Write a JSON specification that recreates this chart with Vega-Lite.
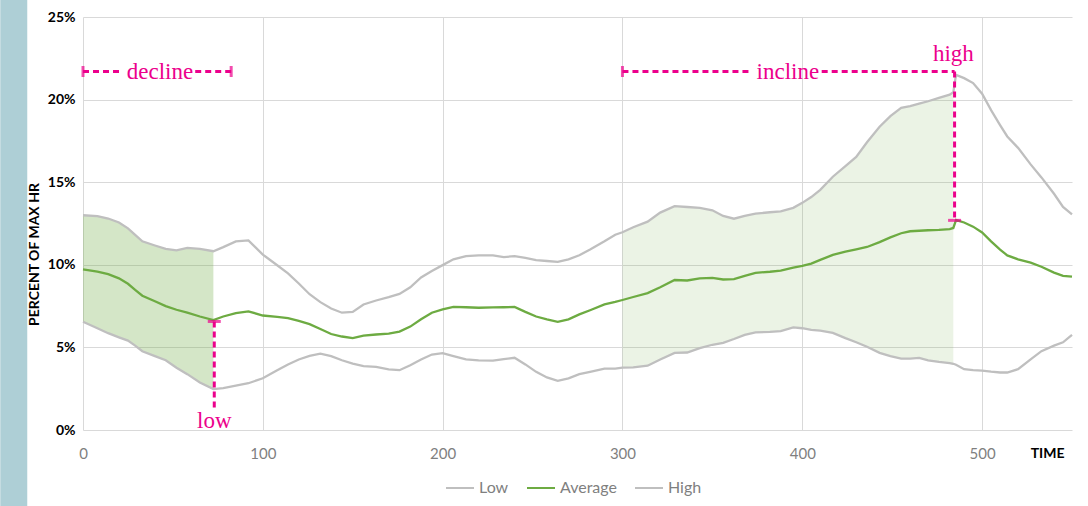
{
  "$schema": "https://vega.github.io/schema/vega-lite/v6.json",
  "width": 989,
  "height": 413,
  "autosize": {"type": "none"},
  "padding": {"left": 83, "top": 17, "right": 16, "bottom": 76},
  "background": "white",
  "config": {
    "view": {"stroke": null},
    "font": "Lato",
    "axis": {"gridColor": "#D9D9D9", "gridWidth": 1, "domain": false, "ticks": false, "tickSize": 0, "labelFlush": false, "labelFont": "Lato", "titleFont": "Lato"},
    "legend": {"labelFont": "Lato"}
  },
  "datasets": {
    "hr": [
      {"t": 0, "High": 13.0, "Average": 9.73, "Low": 6.55},
      {"t": 8, "High": 12.95, "Average": 9.58, "Low": 6.16},
      {"t": 14, "High": 12.8, "Average": 9.43, "Low": 5.86},
      {"t": 20, "High": 12.56, "Average": 9.18, "Low": 5.61},
      {"t": 25, "High": 12.21, "Average": 8.85, "Low": 5.41},
      {"t": 29, "High": 11.81, "Average": 8.48, "Low": 5.11},
      {"t": 33, "High": 11.42, "Average": 8.13, "Low": 4.77},
      {"t": 40, "High": 11.17, "Average": 7.79, "Low": 4.47},
      {"t": 46, "High": 10.97, "Average": 7.5, "Low": 4.22},
      {"t": 52, "High": 10.87, "Average": 7.28, "Low": 3.77},
      {"t": 58, "High": 11.02, "Average": 7.1, "Low": 3.38},
      {"t": 65, "High": 10.97, "Average": 6.87, "Low": 2.88},
      {"t": 72.5, "High": 10.82, "Average": 6.65, "Low": 2.48},
      {"t": 78, "High": 11.07, "Average": 6.87, "Low": 2.54},
      {"t": 85, "High": 11.42, "Average": 7.08, "Low": 2.68},
      {"t": 92, "High": 11.48, "Average": 7.18, "Low": 2.83},
      {"t": 100, "High": 10.62, "Average": 6.93, "Low": 3.13},
      {"t": 108, "High": 9.97, "Average": 6.85, "Low": 3.62},
      {"t": 114, "High": 9.48, "Average": 6.77, "Low": 3.97},
      {"t": 120, "High": 8.87, "Average": 6.6, "Low": 4.27},
      {"t": 126, "High": 8.22, "Average": 6.41, "Low": 4.49},
      {"t": 132, "High": 7.74, "Average": 6.11, "Low": 4.62},
      {"t": 138, "High": 7.35, "Average": 5.81, "Low": 4.47},
      {"t": 144, "High": 7.1, "Average": 5.66, "Low": 4.22},
      {"t": 150, "High": 7.15, "Average": 5.56, "Low": 4.02},
      {"t": 156, "High": 7.6, "Average": 5.71, "Low": 3.87},
      {"t": 163, "High": 7.84, "Average": 5.78, "Low": 3.82},
      {"t": 170, "High": 8.04, "Average": 5.84, "Low": 3.67},
      {"t": 176, "High": 8.24, "Average": 5.96, "Low": 3.62},
      {"t": 182, "High": 8.64, "Average": 6.26, "Low": 3.92},
      {"t": 188, "High": 9.23, "Average": 6.7, "Low": 4.27},
      {"t": 194, "High": 9.63, "Average": 7.1, "Low": 4.57},
      {"t": 200, "High": 9.98, "Average": 7.3, "Low": 4.65},
      {"t": 206, "High": 10.33, "Average": 7.45, "Low": 4.47},
      {"t": 213, "High": 10.52, "Average": 7.43, "Low": 4.27},
      {"t": 220, "High": 10.57, "Average": 7.4, "Low": 4.22},
      {"t": 228, "High": 10.57, "Average": 7.42, "Low": 4.2},
      {"t": 234, "High": 10.47, "Average": 7.43, "Low": 4.29},
      {"t": 240, "High": 10.52, "Average": 7.45, "Low": 4.37},
      {"t": 246, "High": 10.42, "Average": 7.15, "Low": 3.97},
      {"t": 252, "High": 10.28, "Average": 6.87, "Low": 3.52},
      {"t": 258, "High": 10.23, "Average": 6.7, "Low": 3.18},
      {"t": 264, "High": 10.18, "Average": 6.55, "Low": 2.98},
      {"t": 270, "High": 10.33, "Average": 6.7, "Low": 3.13},
      {"t": 276, "High": 10.58, "Average": 7.0, "Low": 3.38},
      {"t": 282, "High": 10.92, "Average": 7.25, "Low": 3.52},
      {"t": 290, "High": 11.42, "Average": 7.6, "Low": 3.72},
      {"t": 296, "High": 11.82, "Average": 7.75, "Low": 3.72},
      {"t": 300, "High": 11.97, "Average": 7.87, "Low": 3.77},
      {"t": 306, "High": 12.27, "Average": 8.05, "Low": 3.79},
      {"t": 314, "High": 12.61, "Average": 8.29, "Low": 3.89},
      {"t": 321, "High": 13.16, "Average": 8.64, "Low": 4.27},
      {"t": 329, "High": 13.55, "Average": 9.08, "Low": 4.67},
      {"t": 336, "High": 13.5, "Average": 9.05, "Low": 4.69},
      {"t": 343, "High": 13.45, "Average": 9.18, "Low": 4.96},
      {"t": 350, "High": 13.3, "Average": 9.21, "Low": 5.16},
      {"t": 356, "High": 12.96, "Average": 9.11, "Low": 5.28},
      {"t": 362, "High": 12.79, "Average": 9.13, "Low": 5.51},
      {"t": 368, "High": 12.96, "Average": 9.33, "Low": 5.76},
      {"t": 374, "High": 13.1, "Average": 9.51, "Low": 5.91},
      {"t": 382, "High": 13.18, "Average": 9.58, "Low": 5.94},
      {"t": 388, "High": 13.23, "Average": 9.65, "Low": 5.99},
      {"t": 395, "High": 13.45, "Average": 9.83, "Low": 6.21},
      {"t": 400, "High": 13.75, "Average": 9.93, "Low": 6.16},
      {"t": 405, "High": 14.1, "Average": 10.07, "Low": 6.06},
      {"t": 410, "High": 14.54, "Average": 10.3, "Low": 6.01},
      {"t": 417, "High": 15.33, "Average": 10.6, "Low": 5.88},
      {"t": 424, "High": 15.98, "Average": 10.8, "Low": 5.56},
      {"t": 430, "High": 16.53, "Average": 10.94, "Low": 5.31},
      {"t": 436, "High": 17.42, "Average": 11.08, "Low": 5.04},
      {"t": 443, "High": 18.36, "Average": 11.37, "Low": 4.67},
      {"t": 449, "High": 19.0, "Average": 11.66, "Low": 4.47},
      {"t": 455, "High": 19.5, "Average": 11.91, "Low": 4.32},
      {"t": 460, "High": 19.6, "Average": 12.03, "Low": 4.32},
      {"t": 465, "High": 19.75, "Average": 12.06, "Low": 4.37},
      {"t": 470, "High": 19.9, "Average": 12.09, "Low": 4.22},
      {"t": 476, "High": 20.1, "Average": 12.11, "Low": 4.12},
      {"t": 482, "High": 20.3, "Average": 12.16, "Low": 4.05},
      {"t": 484, "High": 20.45, "Average": 12.23, "Low": 4.01},
      {"t": 485.5, "High": 21.5, "Average": 12.71, "Low": 3.95},
      {"t": 490, "High": 21.3, "Average": 12.56, "Low": 3.68},
      {"t": 495, "High": 21.0, "Average": 12.31, "Low": 3.63},
      {"t": 500, "High": 20.36, "Average": 11.96, "Low": 3.6},
      {"t": 505, "High": 19.36, "Average": 11.42, "Low": 3.53},
      {"t": 510, "High": 18.46, "Average": 10.92, "Low": 3.48},
      {"t": 514, "High": 17.77, "Average": 10.57, "Low": 3.48},
      {"t": 520, "High": 17.08, "Average": 10.33, "Low": 3.68},
      {"t": 527, "High": 16.08, "Average": 10.13, "Low": 4.28},
      {"t": 533, "High": 15.29, "Average": 9.88, "Low": 4.77},
      {"t": 540, "High": 14.3, "Average": 9.53, "Low": 5.11},
      {"t": 545, "High": 13.5, "Average": 9.33, "Low": 5.31},
      {"t": 550, "High": 13.05, "Average": 9.28, "Low": 5.76}
    ],
    "segs": [
      {"x1": 0, "x2": 22, "y1": 21.7, "y2": 21.7},
      {"x1": 62.4, "x2": 82.4, "y1": 21.7, "y2": 21.7},
      {"x1": 300, "x2": 371, "y1": 21.7, "y2": 21.7},
      {"x1": 410.8, "x2": 484.7, "y1": 21.7, "y2": 21.7},
      {"x1": 484.7, "x2": 484.7, "y1": 21.7, "y2": 12.69},
      {"x1": 73, "x2": 73, "y1": 6.57, "y2": 1.2}
    ],
    "vcaps": [
      {"t": 0, "v": 21.7},
      {"t": 82.4, "v": 21.7},
      {"t": 300, "v": 21.7}
    ],
    "hcaps": [
      {"t": 73, "v": 6.57},
      {"t": 484.7, "v": 12.69}
    ],
    "notes": [
      {"label": "decline", "t": 42.8, "v": 21.27},
      {"label": "incline", "t": 392, "v": 21.27},
      {"label": "high", "t": 484, "v": 22.31},
      {"label": "low", "t": 73, "v": 0.14}
    ]
  },
  "layer": [
    {
      "data": {"values": [{}]},
      "mark": {"type": "rect", "color": "#AECFD6"},
      "encoding": {
        "x": {"datum": -46, "type": "quantitative", "scale": {"domain": [0, 550], "nice": false, "zero": false}, "axis": {"values": [0, 100, 200, 300, 400, 500], "title": "TIME", "labelColor": "#7F7F7F", "labelFontSize": 15, "labelBaseline": "middle", "labelPadding": 23, "titleX": 981, "titleY": 23, "titleAlign": "right", "titleBaseline": "middle", "titleFontSize": 14, "titleFontWeight": "bold", "titleColor": "#000000", "grid": true}},
        "x2": {"datum": -31},
        "y": {"datum": -6, "type": "quantitative", "scale": {"domain": [0, 25], "nice": false, "zero": true}, "axis": {"values": [0, 5, 10, 15, 20, 25], "labelExpr": "datum.value + '%'", "labelFontSize": 14, "labelFontWeight": "bold", "labelColor": "#000000", "labelPadding": 8, "title": "PERCENT OF MAX HR", "titleFontSize": 14, "titleFontWeight": "bold", "titleColor": "#000000", "titleX": -49, "titleY": 237, "titleBaseline": "middle", "titleAlign": "center", "titleAngle": -90, "grid": true}},
        "y2": {"datum": 27}
      }
    },
    {
      "data": {"name": "hr"},
      "transform": [{"filter": "datum.t <= 72.5"}],
      "mark": {"type": "area", "color": "#70AD47", "opacity": 0.3},
      "encoding": {
        "x": {"field": "t", "type": "quantitative"},
        "y": {"field": "Low", "type": "quantitative"},
        "y2": {"field": "High"}
      }
    },
    {
      "data": {"name": "hr"},
      "transform": [{"filter": "datum.t >= 300 && datum.t <= 484"}],
      "mark": {"type": "area", "color": "#70AD47", "opacity": 0.14},
      "encoding": {
        "x": {"field": "t", "type": "quantitative"},
        "y": {"field": "Low", "type": "quantitative"},
        "y2": {"field": "High"}
      }
    },
    {
      "data": {"name": "hr"},
      "transform": [{"fold": ["Low", "Average", "High"], "as": ["series", "value"]}],
      "mark": {"type": "line", "strokeWidth": 2.3},
      "encoding": {
        "x": {"field": "t", "type": "quantitative"},
        "y": {"field": "value", "type": "quantitative"},
        "color": {
          "field": "series", "type": "nominal",
          "scale": {"domain": ["Low", "Average", "High"], "range": ["#BFBFBF", "#6DAB42", "#BFBFBF"]},
          "legend": {"title": null, "orient": "none", "direction": "horizontal", "legendX": 362, "legendY": 456, "columnPadding": 14, "labelOffset": 4, "symbolSize": 784, "symbolStrokeWidth": 2, "symbolType": "stroke", "labelFontSize": 16, "labelColor": "#7F7F7F", "padding": 0}
        }
      }
    },
    {
      "data": {"name": "segs"},
      "mark": {"type": "rule", "color": "#EC008C", "strokeWidth": 3, "strokeDash": [6, 4]},
      "encoding": {
        "x": {"field": "x1", "type": "quantitative"},
        "x2": {"field": "x2"},
        "y": {"field": "y1", "type": "quantitative"},
        "y2": {"field": "y2"}
      }
    },
    {
      "data": {"name": "vcaps"},
      "mark": {"type": "tick", "orient": "vertical", "color": "#EC008C", "size": 11, "thickness": 3},
      "encoding": {
        "x": {"field": "t", "type": "quantitative"},
        "y": {"field": "v", "type": "quantitative"}
      }
    },
    {
      "data": {"name": "hcaps"},
      "mark": {"type": "tick", "orient": "horizontal", "color": "#EC008C", "size": 13, "thickness": 3},
      "encoding": {
        "x": {"field": "t", "type": "quantitative"},
        "y": {"field": "v", "type": "quantitative"}
      }
    },
    {
      "data": {"name": "notes"},
      "mark": {"type": "text", "font": "Liberation Serif", "fontSize": 23, "color": "#EC008C", "align": "center", "baseline": "alphabetic"},
      "encoding": {
        "x": {"field": "t", "type": "quantitative"},
        "y": {"field": "v", "type": "quantitative"},
        "text": {"field": "label"}
      }
    }
  ]
}
